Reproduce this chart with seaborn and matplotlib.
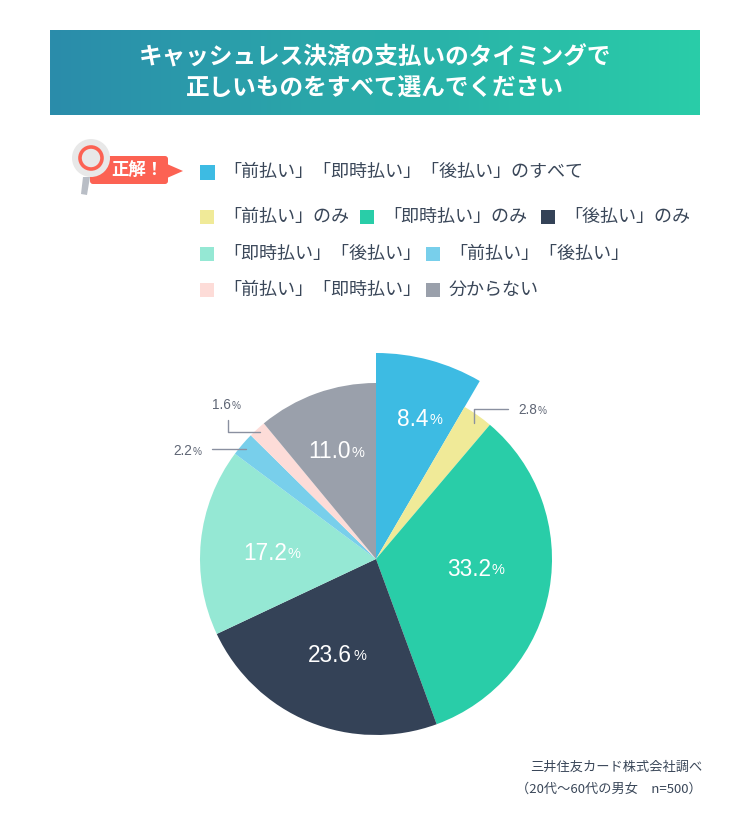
import numpy as np
import matplotlib
matplotlib.use('Agg')
import matplotlib.pyplot as plt
from matplotlib.patches import Circle, FancyBboxPatch, Polygon, Rectangle
import seaborn as sns

# Data
labels = ['「前払い」「即時払い」「後払い」のすべて', '「前払い」のみ', '「即時払い」のみ', '「後払い」のみ',
          '「即時払い」「後払い」', '「前払い」「後払い」', '「前払い」「即時払い」', '分からない']
values = [8.4, 2.8, 33.2, 23.6, 17.2, 2.2, 1.6, 11.0]
colors = ['#3dbbe3', '#f0ea98', '#29cda8', '#344257', '#95e8d4', '#78cfeb', '#fddcd8', '#9aa0ab']
title_lines = ['キャッシュレス決済の支払いのタイミングで', '正しいものをすべて選んでください']
banner_colors = ['#2b8cab', '#29cda8']
source_lines = ['三井住友カード株式会社調べ', '（20代〜60代の男女　n=500）']

TEXT_COL = '#3a4759'
GREY_COL = '#5f6675'
JP = ['Noto Sans CJK JP', 'DejaVu Sans']

sns.set_theme(style='white')
plt.rcParams['font.family'] = JP

fig = plt.figure(figsize=(7.5, 8.18), dpi=100)
ax = fig.add_axes([0, 0, 1, 1])

# Pie, the y axis is inverted below so that everything is in image pixels
wedges, _ = ax.pie(values, colors=colors, startangle=-90, counterclock=True,
                   center=(376, 559), radius=176, wedgeprops={'linewidth': 0})
wedges[0].set_radius(206)

# Banner
cmap = sns.blend_palette(banner_colors, as_cmap=True)
ax.imshow(np.linspace(0, 1, 256).reshape(1, -1), cmap=cmap, extent=(50, 700, 115, 30), aspect='auto', zorder=1)
ax.text(375, 58, title_lines[0], color='white', fontsize=17, fontweight='bold', ha='center', va='center', zorder=2)
ax.text(375, 88, title_lines[1], color='white', fontsize=17, fontweight='bold', ha='center', va='center', zorder=2)

# Magnifier badge
ax.add_patch(Polygon([(83, 177), (90, 177), (87, 195), (81, 194)], color='#b9bec6', lw=0, zorder=2))
ax.add_patch(FancyBboxPatch((93, 159), 72, 22, boxstyle='round,pad=3', color='#fc6253', lw=0, zorder=2))
ax.add_patch(Polygon([(167, 164), (183, 171), (167, 178)], color='#fc6253', lw=0, zorder=2))
ax.add_patch(Circle((91, 158), 19, color='#e8e8e8', lw=0, zorder=3))
ax.add_patch(Circle((91, 158), 11, fc='none', ec='#fc6253', lw=2.6, zorder=4))
ax.text(137, 170, '正解！', color='white', fontsize=12.5, fontweight='bold', ha='center', va='center', zorder=4)

# Legend, laid out by hand as in the original
legend_pos = [(200, 172), (200, 217), (360, 217), (541, 217),
              (200, 254), (426, 254), (200, 290), (426, 290)]
for i, (x, y) in enumerate(legend_pos):
    size = 15 if i == 0 else 14
    ax.add_patch(Rectangle((x, y - size / 2), size, size, color=colors[i], lw=0, zorder=2))
    ax.text(x + 23, y, labels[i], color=TEXT_COL, fontsize=13, ha='left', va='center', zorder=2)


def pct_label(x, y, num, color, size, small):
    ax.text(x, y, num, color=color, fontsize=size, family='Liberation Sans', ha='right', va='center', zorder=5)
    ax.text(x + 1, y + 1, '%', color=color, fontsize=small, family='Liberation Sans', ha='left', va='center', zorder=5)


# Value labels
big_x = [428, None, 491, 352, 287, None, None, 351]
big_y = [419, None, 569, 655, 553, None, None, 452]
for i, v in enumerate(values):
    if big_x[i] is not None:
        pct_label(big_x[i], big_y[i], f'{v:.1f}', 'white', 16.3, 10.5)
pct_label(537, 410, f'{values[1]:.1f}', GREY_COL, 9.8, 7.3)
pct_label(192, 451, f'{values[5]:.1f}', GREY_COL, 9.8, 7.3)
pct_label(231, 405, f'{values[6]:.1f}', GREY_COL, 9.8, 7.3)

# Leader lines
line_kw = dict(color='#8a90a0', lw=1, zorder=5)
ax.plot([474, 474, 508], [423, 409, 409], **line_kw)
ax.plot([212, 246], [449, 449], **line_kw)
ax.plot([228, 228, 260], [420, 432, 432], **line_kw)

# Source note
ax.text(702, 767, source_lines[0], color=TEXT_COL, fontsize=9.5, ha='right', va='center')
ax.text(702, 789, source_lines[1], color=TEXT_COL, fontsize=9.5, ha='right', va='center')

ax.set_xlim(0, 750)
ax.set_ylim(818, 0)
ax.set_aspect('equal')
ax.axis('off')

fig.savefig('out.png', dpi=100, facecolor='white')
